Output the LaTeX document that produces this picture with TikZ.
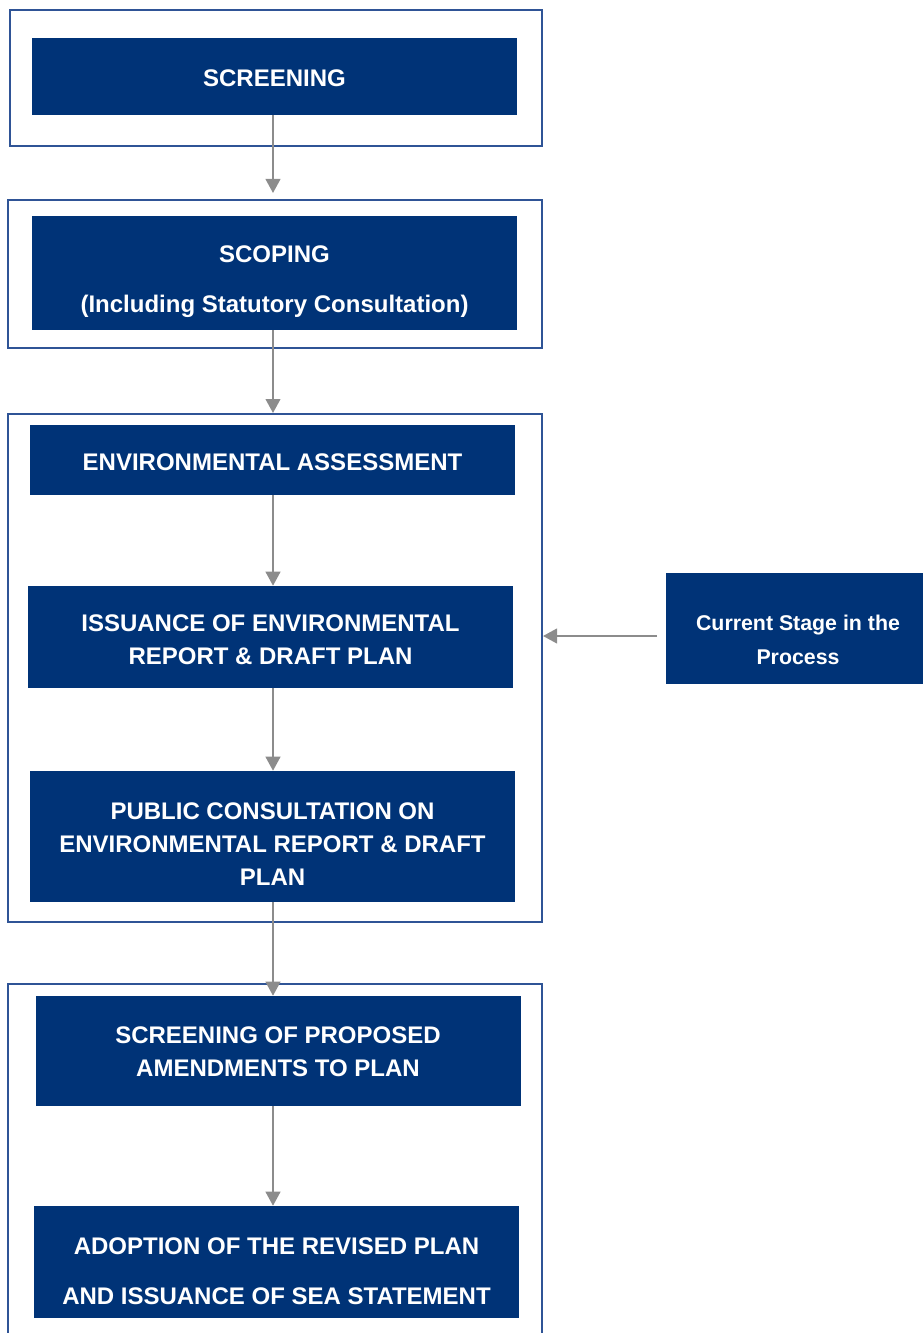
\documentclass[tikz,border=0pt]{standalone}
\usepackage{fontspec}
\setmainfont{Liberation Sans}
\usetikzlibrary{arrows.meta,fit}
\definecolor{navy}{RGB}{0,51,119}
\definecolor{framecol}{RGB}{47,84,150}
\definecolor{arrowgray}{RGB}{140,140,140}
\begin{document}
\begin{tikzpicture}[x=0.75pt,y=-0.75pt,
  outerbox/.style={draw=framecol, line width=1pt, fill=none, inner sep=0pt},
  stagebox/.style={fill=navy, draw=none, inner sep=0pt},
  lbl/.style={text=white, font=\fontsize{18}{24.75}\selectfont\bfseries, align=center, inner sep=0pt},
  sidelbl/.style={text=white, font=\fontsize{16}{25.5}\selectfont\bfseries, align=center, inner sep=0pt},
  flow/.style={draw=arrowgray, line width=1.5pt, -{Triangle[length=10.5pt,width=11pt]}}]
\clip (0,0) rectangle (923,1333);
\useasboundingbox (0,0) rectangle (923,1333);
% outer frames
\node[outerbox, fit={(10,10) (542,146)}] (o1) {};
\node[outerbox, fit={(8,200) (542,348)}] (o2) {};
\node[outerbox, fit={(8,414) (542,922)}] (o3) {};
\node[outerbox, fit={(8,984) (542,1360)}] (o4) {};
% stage boxes
\node[stagebox, fit={(32,38) (517,115)}] (b1) {};
\node[stagebox, fit={(32,216) (517,330)}] (b2) {};
\node[stagebox, fit={(30,425) (515,495)}] (b3) {};
\node[stagebox, fit={(28,586) (513,688)}] (b4) {};
\node[stagebox, fit={(30,771) (515,902)}] (b5) {};
\node[stagebox, fit={(36,996) (521,1106)}] (b6) {};
\node[stagebox, fit={(34,1206) (519,1318)}] (b7) {};
\node[stagebox, fit={(666,573) (926,684)}] (side) {};
% labels
\node[lbl] (t1) at (274.5,78) {SCREENING};
\node[lbl] (t2) at (274.5,282) {SCOPING\\[12.75pt](Including Statutory Consultation)};
\node[lbl] (t3) at (272.5,462) {ENVIRONMENTAL ASSESSMENT};
\node[lbl] (t4) at (270.5,640) {ISSUANCE OF ENVIRONMENTAL\\REPORT \& DRAFT PLAN};
\node[lbl] (t5) at (272.5,844) {PUBLIC CONSULTATION ON\\ENVIRONMENTAL REPORT \& DRAFT\\PLAN};
\node[lbl] (t6) at (278,1052) {SCREENING OF PROPOSED\\AMENDMENTS TO PLAN};
\node[lbl] (t7) at (276.5,1271) {ADOPTION OF THE REVISED PLAN\\[12.75pt]AND ISSUANCE OF SEA STATEMENT};
\node[sidelbl] (ts) at (798,640) {Current Stage in the\\Process};
% connectors
\coordinate (ax) at (273,0);
\coordinate (gap1) at (0,193);
\coordinate (gap2) at (0,413);
\coordinate (sidestart) at (657,636);
\coordinate (sideend) at (543,636);
\draw[flow] (b1.south -| ax) -- (gap1 -| ax);
\draw[flow] (b2.south -| ax) -- (gap2 -| ax);
\draw[flow] (b3.south -| ax) -- (b4.north -| ax);
\draw[flow] (b4.south -| ax) -- (b5.north -| ax);
\draw[flow] (b5.south -| ax) -- (b6.north -| ax);
\draw[flow] (b6.south -| ax) -- (b7.north -| ax);
\draw[flow] (sidestart) -- (sideend);
\end{tikzpicture}
\end{document}
